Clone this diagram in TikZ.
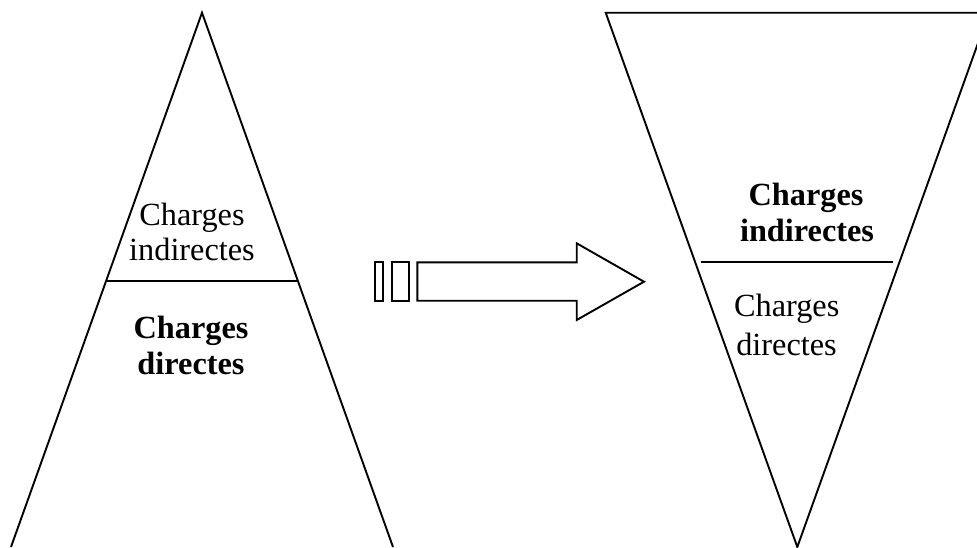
\documentclass[tikz,border=0pt]{standalone}
\usepackage{fontspec}
\setmainfont{Liberation Serif}
\begin{document}
\begin{tikzpicture}[x=1pt,y=-1pt,
  edge/.style={line width=1.9pt, line join=miter},
  lbl/.style={anchor=base, inner sep=0pt, font=\fontsize{32.3}{35.7}\selectfont},
  blbl/.style={lbl, font=\fontsize{32.3}{35.7}\selectfont\bfseries}]
\useasboundingbox (0,0) rectangle (977,547);
% left triangle
\coordinate (LA) at (202,12.7);
\coordinate (LL) at (11,547);
\coordinate (LR) at (393,547);
\draw[edge] (LL) -- (LA) -- (LR);
\coordinate (LH1) at (106,280.7);
\coordinate (LH2) at (298,280.7);
\draw[edge] (LH1) -- (LH2);
\node[lbl] (l1) at (192,225) {Charges};
\node[lbl] (l2) at (192,260.7) {indirectes};
\node[blbl] (l3) at (191,338) {Charges};
\node[blbl] (l4) at (191,374.5) {directes};
% arrow
\draw[edge] (375,262.3) rectangle (383.3,300.7);
\draw[edge] (391.7,262.3) rectangle (409,300.7);
\draw[edge] (417.3,262.3) -- (576.7,262.3) -- (576.7,243.3) -- (644,281.7)
  -- (576.7,320) -- (576.7,300.7) -- (417.3,300.7) -- cycle;
% right inverted triangle
\begin{scope}
\clip (0,0) rectangle (977,547);
\coordinate (RA) at (797.3,547);
\coordinate (RL) at (605.7,12.7);
\coordinate (RR) at (988.9,12.7);
\draw[edge] (RA) -- (RL) -- (RR) -- cycle;
\end{scope}
\coordinate (RH1) at (700.7,261.7);
\coordinate (RH2) at (893.3,261.7);
\draw[edge] (RH1) -- (RH2);
\node[blbl] (r1) at (806,205) {Charges};
\node[blbl] (r2) at (807,241.7) {indirectes};
\node[lbl] (r3) at (786.7,316.7) {Charges};
\node[lbl] (r4) at (786.5,355) {directes};
\end{tikzpicture}
\end{document}
